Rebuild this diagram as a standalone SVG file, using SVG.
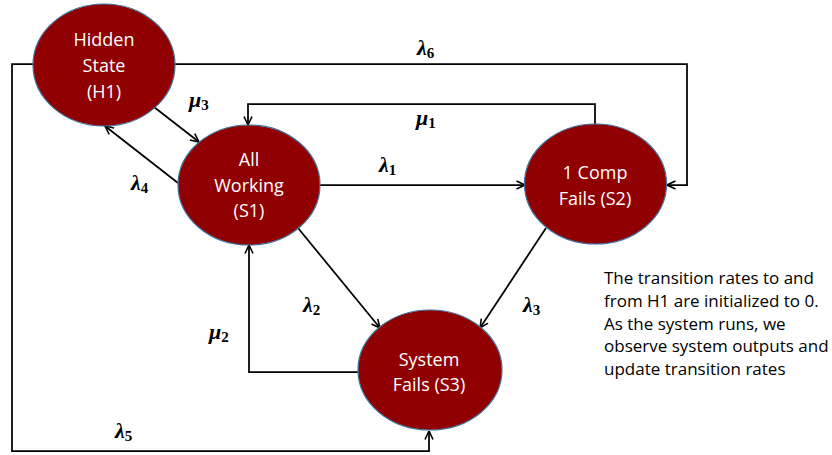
<svg xmlns="http://www.w3.org/2000/svg" width="832" height="455" viewBox="0 0 832 455">
  <style>
    .state { fill: #900000; stroke: #41719C; stroke-width: 1.2; }
    .ntext { font-family: "Open Sans", "Liberation Sans", sans-serif; font-size: 18px; fill: #ffffff; text-anchor: middle; }
    .edge { fill: none; stroke: #000000; stroke-width: 1.75; marker-end: url(#arrow); }
    .lbl { font-family: "Liberation Serif", "DejaVu Serif", serif; font-size: 22px; font-weight: bold; font-style: italic; fill: #000000; }
    .sub { font-size: 15px; font-style: normal; }
    .note { font-family: "Open Sans", "Liberation Sans", sans-serif; font-size: 17px; fill: #000000; }
  </style>
  <defs>
    <marker id="arrow" viewBox="0 0 10 10" refX="9.5" refY="5" markerWidth="10" markerHeight="10" markerUnits="userSpaceOnUse" orient="auto">
      <path d="M1,1 L9.5,5 L1,9" fill="none" stroke="#000000" stroke-width="1.6"/>
    </marker>
  </defs>

  <!-- connectors -->
  <g id="connectors">
    <!-- lambda6: H1 -> S2 over the top -->
    <path class="edge" d="M175,64 H687 V185 H667"/>
    <!-- lambda5: H1 -> S3 round the left and bottom -->
    <path class="edge" d="M33,64 H12 V451 H429 V431"/>
    <!-- mu1: S2 -> S1 -->
    <path class="edge" d="M595,124 V104 H248 V125"/>
    <!-- lambda1: S1 -> S2 -->
    <path class="edge" d="M320,185 H525"/>
    <!-- mu3: H1 -> S1 -->
    <path class="edge" d="M154,107 L199,142"/>
    <!-- lambda4: S1 -> H1 -->
    <path class="edge" d="M178,183 L105,126"/>
    <!-- lambda2: S1 -> S3 -->
    <path class="edge" d="M298,228 L380,328"/>
    <!-- mu2: S3 -> S1 -->
    <path class="edge" d="M358,372 H249 V245"/>
    <!-- lambda3: S2 -> S3 -->
    <path class="edge" d="M546,228 L480,328"/>
  </g>

  <!-- states -->
  <g id="H1">
    <ellipse class="state" cx="104" cy="65" rx="71" ry="61"/>
    <text class="ntext" x="104" y="46">Hidden</text>
    <text class="ntext" x="104" y="72">State</text>
    <text class="ntext" x="104" y="98">(H1)</text>
  </g>
  <g id="S1">
    <ellipse class="state" cx="249" cy="185" rx="71" ry="60"/>
    <text class="ntext" x="249" y="166">All</text>
    <text class="ntext" x="249" y="192">Working</text>
    <text class="ntext" x="249" y="217">(S1)</text>
  </g>
  <g id="S2">
    <ellipse class="state" cx="595.5" cy="184" rx="71" ry="60"/>
    <text class="ntext" x="595" y="179">1 Comp</text>
    <text class="ntext" x="595" y="205">Fails (S2)</text>
  </g>
  <g id="S3">
    <ellipse class="state" cx="430" cy="370" rx="72" ry="60"/>
    <text class="ntext" x="429" y="366">System</text>
    <text class="ntext" x="429" y="391">Fails (S3)</text>
  </g>

  <!-- transition rate labels -->
  <g id="labels">
    <text class="lbl" x="417" y="55">λ<tspan class="sub" dy="3">6</tspan></text>
    <text class="lbl" x="416" y="125">μ<tspan class="sub" dy="3">1</tspan></text>
    <text class="lbl" x="189" y="107">μ<tspan class="sub" dy="3">3</tspan></text>
    <text class="lbl" x="379" y="172">λ<tspan class="sub" dy="3">1</tspan></text>
    <text class="lbl" x="131" y="190">λ<tspan class="sub" dy="3">4</tspan></text>
    <text class="lbl" x="303" y="312">λ<tspan class="sub" dy="3">2</tspan></text>
    <text class="lbl" x="209" y="339">μ<tspan class="sub" dy="3">2</tspan></text>
    <text class="lbl" x="523" y="312">λ<tspan class="sub" dy="3">3</tspan></text>
    <text class="lbl" x="115" y="438">λ<tspan class="sub" dy="3">5</tspan></text>
  </g>

  <!-- explanatory note -->
  <g id="note">
    <text class="note" x="604" y="284">The transition rates to and</text>
    <text class="note" x="604" y="307">from H1 are initialized to 0.</text>
    <text class="note" x="604" y="330">As the system runs, we</text>
    <text class="note" x="604" y="352">observe system outputs and</text>
    <text class="note" x="604" y="375">update transition rates</text>
  </g>
</svg>
